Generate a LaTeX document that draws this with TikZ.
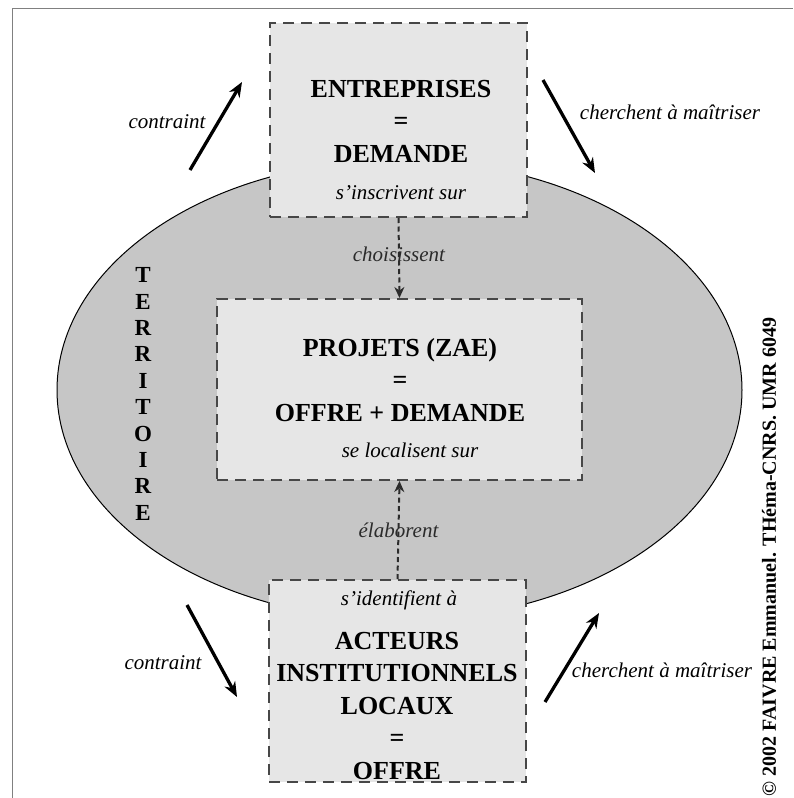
\documentclass[tikz,border=0pt]{standalone}
\usepackage{fontspec}
\setmainfont{Liberation Serif}
\usetikzlibrary{arrows.meta}
\definecolor{boitefond}{HTML}{E6E6E6}
\definecolor{boitebord}{HTML}{474747}
\definecolor{territoire}{HTML}{C6C6C6}
\definecolor{cadre}{HTML}{808080}

\begin{document}
\begin{tikzpicture}[x=1pt, y=-1pt]
	\tikzset{
		boite/.style={draw=boitebord, fill=boitefond, line width=2pt, dash pattern=on 11pt off 7pt, inner sep=0pt},
		titre/.style={font=\fontsize{26}{32.5}\selectfont\bfseries, align=center, inner sep=0pt},
		verbe/.style={font=\fontsize{21}{25}\selectfont\itshape, inner sep=0pt},
		fleche/.style={line width=3.3pt, -{Stealth[length=15pt, width=12pt]}},
		pointille/.style={line width=2pt, boitebord!60!black, dash pattern=on 5pt off 3.5pt, -{Stealth[length=11pt, width=10pt]}}
	}
	\useasboundingbox (0,0) rectangle (793,798);
	\fill[white] (0,0) rectangle (793,798);
	% cadre, coupe a droite et en bas
	\draw[cadre, line width=1pt] (12,798) -- (12,8) -- (793,8);
	% le territoire
	\draw[fill=territoire, line width=1pt] (399.5,390) ellipse [x radius=342.5pt, y radius=230pt];
	\node[font=\fontsize{23}{26.4}\selectfont\bfseries, align=center, inner sep=0pt] (territ) at (143,394)
		{T\\E\\R\\R\\I\\T\\O\\I\\R\\E};

	% les trois boites
	\node[boite, minimum width=257pt, minimum height=194pt] (entreprises) at (398.5,120) {};
	\node[boite, minimum width=365pt, minimum height=181pt] (projets) at (399.5,389.5) {};
	\node[boite, minimum width=257pt, minimum height=202pt] (acteurs) at (397.5,681) {};

	\node[titre] (entreprisesT) at (401,121) {ENTREPRISES\\=\\DEMANDE};
	\node[verbe] (inscrivent) at (401,193) {s'inscrivent sur};
	\node[titre] (projetsT) at (400,380) {PROJETS (ZAE)\\=\\OFFRE + DEMANDE};
	\node[verbe] (localisent) at (410,450) {se localisent sur};
	\node[verbe] (identifient) at (399,600) {s'identifient à};
	\node[titre] (acteursT) at (397,706) {ACTEURS\\INSTITUTIONNELS\\LOCAUX\\=\\OFFRE};

	% liens pointilles
	\draw[pointille] (entreprises.south) -- node[verbe, pos=0.45] {choisissent} (projets.north);
	\draw[pointille] (acteurs.north) -- node[verbe, pos=0.5] {élaborent} (projets.south);

	% fleches pleines
	\coordinate (a1) at (190,170); \coordinate (b1) at (242,82);
	\coordinate (a2) at (543,80);  \coordinate (b2) at (595,173);
	\coordinate (a3) at (187,605); \coordinate (b3) at (237,697);
	\coordinate (a4) at (545,702); \coordinate (b4) at (599,613);
	\draw[fleche] (a1) -- (b1);
	\draw[fleche] (a2) -- (b2);
	\draw[fleche] (a3) -- (b3);
	\draw[fleche] (a4) -- (b4);
	\node[verbe] (contraintH) at (167,122) {contraint};
	\node[verbe] (maitriserH) at (670,112) {cherchent à maîtriser};
	\node[verbe] (contraintB) at (163,663) {contraint};
	\node[verbe] (maitriserB) at (662,670) {cherchent à maîtriser};

	% source
	\node[font=\fontsize{20}{24}\selectfont\bfseries, rotate=90, inner sep=0pt] (source) at (769,557)
		{© 2002 FAIVRE Emmanuel. THéma-CNRS. UMR 6049};
\end{tikzpicture}
\end{document}
